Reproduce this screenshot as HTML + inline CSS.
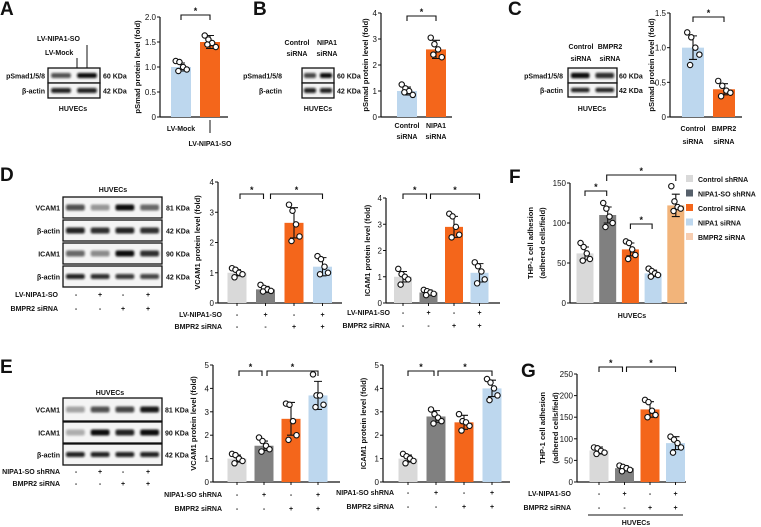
<!DOCTYPE html>
<html><head><meta charset="utf-8"><style>
html,body{margin:0;padding:0;background:#fff;}
svg{display:block;font-family:"Liberation Sans",sans-serif;}
</style></head><body>
<svg id="fig" width="761" height="527" viewBox="0 0 761 527" xmlns="http://www.w3.org/2000/svg">
<defs><filter id="blur" x="-20%" y="-50%" width="140%" height="200%"><feGaussianBlur stdDeviation="1.1"/></filter></defs>
</svg>
<script>
// ---------- DATA ----------
const catsA=['LV-Mock','LV-NIPA1-SO'];
const meanA=[1.0,1.5];
const sdA=[0.08,0.13];
const ptsA=[[1.12,1.1,1.0,0.95,0.92],[1.63,1.55,1.48,1.4,1.45]];
const ticksA=[0,0.5,1.0,1.5,2.0];
const tickLabA=['0','0.5','1.0','1.5','2.0'];

const catsB=['Control siRNA','NIPA1 siRNA'];
const meanB=[1.0,2.6];
const sdB=[0.15,0.35];
const ptsB=[[1.25,1.1,1.0,0.85,0.95],[3.05,2.8,2.6,2.3,2.4]];
const ticksB=[0,1,2,3,4];
const tickLabB=['0','1','2','3','4'];

const catsC=['Control siRNA','BMPR2 siRNA'];
const meanC=[1.0,0.4];
const sdC=[0.17,0.08];
const ptsC=[[1.22,1.15,1.0,0.9,0.75],[0.52,0.45,0.38,0.35,0.3]];
const ticksC=[0,0.5,1.0,1.5];
const tickLabC=['0','0.5','1.0','1.5'];

const meanD1=[1.0,0.45,2.65,1.2];
const sdD1=[0.1,0.1,0.5,0.3];
const ptsD1=[[1.15,1.1,1.0,0.95,0.85],[0.6,0.5,0.45,0.4,0.38],[3.25,3.05,2.6,2.2,2.05],[1.55,1.45,1.2,1.0,0.95]];
const meanD2=[1.0,0.4,2.9,1.15];
const sdD2=[0.2,0.1,0.4,0.35];
const ptsD2=[[1.3,1.1,1.0,0.9,0.7],[0.5,0.45,0.4,0.35,0.3],[3.4,3.3,2.9,2.6,2.5],[1.55,1.4,1.2,0.9,0.75]];
const ticksD=[0,1,2,3,4];
const tickLabD=['0','1','2','3','4'];

const meanE1=[1.0,1.55,2.7,3.7];
const sdE1=[0.15,0.2,0.7,0.6];
const ptsE1=[[1.2,1.15,1.0,0.9,0.8],[1.9,1.75,1.55,1.4,1.3],[3.35,3.3,2.6,2.0,1.8],[4.6,3.7,3.7,3.3,3.2]];
const meanE2=[1.0,2.8,2.55,4.0];
const sdE2=[0.15,0.25,0.3,0.35];
const ptsE2=[[1.2,1.1,1.0,0.9,0.8],[3.1,2.9,2.75,2.6,2.5],[2.9,2.6,2.55,2.4,2.2],[4.4,4.25,4.0,3.7,3.5]];
const ticksE=[0,1,2,3,4,5];
const tickLabE=['0','1','2','3','4','5'];

const catsF=['Control shRNA','NIPA1-SO shRNA','Control siRNA','NIPA1 siRNA','BMPR2 siRNA'];
const meanF=[62,110,67,37,122];
const sdF=[8,10,8,4,14];
const ptsF=[[75,70,62,55,53],[125,118,108,100,95],[77,75,67,60,55],[43,40,37,35,33],[146,127,120,118,115]];
const ticksF=[0,50,100,150];
const tickLabF=['0','50','100','150'];

const meanG=[73,32,168,90];
const sdG=[8,6,18,15];
const ptsG=[[80,78,72,68,65],[38,35,32,28,25],[190,185,165,155,150],[105,98,90,80,68]];
const ticksG=[0,50,100,150,200,250];
const tickLabG=['0','50','100','150','200','250'];

const signRow1=['-','+','-','+'];
const signRow2=['-','-','+','+'];

// ---------- HELPERS ----------
const NS='http://www.w3.org/2000/svg';
const svg=document.getElementById('fig');
const LG='#d9d9d9',DG='#808080',OR='#f4661b',LB='#bdd7ee',PE='#f2b47a';
const FS=7;
function el(tag,attrs,parent){const e=document.createElementNS(NS,tag);for(const k in attrs)e.setAttribute(k,attrs[k]);(parent||svg).appendChild(e);return e;}
function group(name){const g=el('g',{});


return g;}
function txt(x,y,s,name,opts,parent){opts=opts||{};
const t=el('text',{x:x,y:y,'font-size':opts.size||FS,'font-weight':opts.weight||'bold','text-anchor':opts.anchor||'start',fill:'#111'},parent);
if(opts.rot)t.setAttribute('transform','rotate(-90 '+x+' '+y+')');
t.textContent=s;


return t;}
function letter(x,y,s){const t=txt(x,y,s,'panel-label-'+s.toLowerCase(),{size:19,weight:'bold'});return t;}

function chart(name,cfg,means,sds,pts,colors,ticks,tickLabs){
  const g=group(name);
  const ys=v=>cfg.y0-v/cfg.max*(cfg.y0-cfg.yTop);
  const xc=i=>cfg.c0+i*cfg.step;
  const ya=el('line',{x1:cfg.ax,y1:cfg.yTop,x2:cfg.ax,y2:cfg.y0,stroke:'#111','stroke-width':1.2},g);
  
  
  const xa=el('line',{x1:cfg.ax,y1:cfg.y0,x2:cfg.axEnd,y2:cfg.y0,stroke:'#111','stroke-width':1.2},g);
  
  
  ticks.forEach((t,i)=>{
    const tk=el('line',{x1:cfg.ax-3,y1:ys(t),x2:cfg.ax,y2:ys(t),stroke:'#111','stroke-width':1},g);
    
    
    txt(cfg.ax-4,ys(t)+3,tickLabs[i],'y-tick-label',{anchor:'end',size:8,weight:'normal'},g);
  });
  const off=[-5,-1.5,2,5.5,-2.5];
  means.forEach((m,i)=>{
    const b=el('rect',{x:xc(i)-cfg.bw/2,y:ys(m),width:cfg.bw,height:cfg.y0-ys(m),fill:colors[i]},g);
    
    
    const e=el('path',{d:'M'+xc(i)+' '+ys(m+sds[i])+'V'+ys(m-sds[i])+'M'+(xc(i)-4)+' '+ys(m+sds[i])+'H'+(xc(i)+4)+'M'+(xc(i)-4)+' '+ys(m-sds[i])+'H'+(xc(i)+4),stroke:'#111','stroke-width':1.1,fill:'none'},g);
    
    
    pts[i].forEach((p,j)=>{
      const c=el('circle',{cx:xc(i)+off[j]*(cfg.bw/19),cy:ys(p),r:2.7,fill:'#fff',stroke:'#111','stroke-width':1.1},g);
      
      
    });
  });
  if(cfg.xticks){means.forEach((m,i)=>{
    const tk=el('line',{x1:xc(i),y1:cfg.y0,x2:xc(i),y2:cfg.y0+3,stroke:'#111'},g);
    
    
  });}
  cfg.title.forEach((s,k)=>txt(cfg.titleX[k],(cfg.y0+cfg.yTop)/2,s,'y-axis-title',{anchor:'middle',size:7.6,rot:true},g));
  (cfg.brackets||[]).forEach(br=>{
    const x1=xc(br[0])+(br[3]||0),x2=xc(br[1])+(br[4]||0),y=br[2];
    const p=el('path',{d:'M'+x1+' '+(y+5)+'V'+y+'H'+x2+'V'+(y+5),stroke:'#111','stroke-width':1.1,fill:'none'},g);
    
    
    txt((x1+x2)/2,y-1,'*','significance-star',{anchor:'middle',size:9},g);
  });
  if(cfg.signs){
    cfg.signs.forEach((row,r)=>{
      txt(cfg.signLabX,cfg.signY[r],row.label,'condition-label',{anchor:'end'},g);
      row.vals.forEach((s,i)=>txt(xc(i),cfg.signY[r],s,'condition-sign',{anchor:'middle'},g));
    });
  }
  return {g,xc,ys};
}

function blot(name,x,w,rows,labX,kdaX){
  const g=group(name);
  rows.forEach(r=>{
    const box=el('rect',{x:x,y:r.y,width:w,height:r.h,fill:'#f4f4f4',stroke:'#111','stroke-width':1.3},g);
    
    
    const n=r.bands.length, lw=w/n;
    r.bands.forEach((a,i)=>{
      const b=el('rect',{x:x+i*lw+lw*0.12,y:r.y+r.h/2-(r.bh||3),width:lw*0.76,height:2*(r.bh||3),rx:2,fill:'#111',opacity:a,filter:'url(#blur)'},g);
      
      
    });
    txt(labX,r.y+r.h/2+3,r.label,'blot-row-label',{anchor:'end'},g);
    txt(kdaX,r.y+r.h/2+3,r.kda,'molecular-weight-label',{},g);
  });
  return g;
}

// ---------- PANEL A ----------
letter(0,15,'A');
blot('blot-a',48,52,[{y:68,h:15,bands:[0.7,1],label:'pSmad1/5/8',kda:'60 KDa',bh:2.5},{y:83,h:15,bands:[0.9,0.9],label:'β-actin',kda:'42 KDa',bh:2.5}],45,103);
txt(37,41,'LV-NIPA1-SO','lane-label');
txt(45,55,'LV-Mock','lane-label');
el('path',{d:'M77 58V68M87 45V68',stroke:'#111','stroke-width':1});
txt(73,111,'HUVECs','cell-label',{anchor:'middle'});
chart('chart-a',{ax:160,axEnd:228,y0:117,yTop:17,max:2,c0:181,step:29,bw:20,title:['pSmad protein level (fold)'],titleX:[140],brackets:[[0,1,15]]},meanA,sdA,ptsA,[LB,OR],ticksA,tickLabA);
txt(181,131,catsA[0],'x-category-label',{anchor:'middle'});
el('path',{d:'M210 120V133',stroke:'#111','stroke-width':1});
txt(210,146,catsA[1],'x-category-label',{anchor:'middle'});

// ---------- PANEL B ----------
letter(253,15,'B');
blot('blot-b',302,32,[{y:68,h:15,bands:[0.75,1],label:'pSmad1/5/8',kda:'60 KDa',bh:2.5},{y:83,h:15,bands:[0.9,0.9],label:'β-actin',kda:'42 KDa',bh:2.5}],282,337);
txt(297,45,'Control','lane-label',{anchor:'middle'});txt(297,56,'siRNA','lane-label',{anchor:'middle'});
txt(327,45,'NIPA1','lane-label',{anchor:'middle'});txt(327,56,'siRNA','lane-label',{anchor:'middle'});
txt(318,111,'HUVECs','cell-label',{anchor:'middle'});
chart('chart-b',{ax:381,axEnd:452,y0:117,yTop:13,max:4,c0:407,step:29,bw:20,title:['pSmad protein level (fold)'],titleX:[368],brackets:[[0,1,16]]},meanB,sdB,ptsB,[LB,OR],ticksB,tickLabB);
catsB.forEach((c,i)=>{const p=c.split(' ');txt(407+i*29,128,p[0],'x-category-label',{anchor:'middle'});txt(407+i*29,139,p[1],'x-category-label',{anchor:'middle'});});

// ---------- PANEL C ----------
letter(508,15,'C');
blot('blot-c',568,49,[{y:68,h:15,bands:[1,0.85],label:'pSmad1/5/8',kda:'60 KDa',bh:2.8},{y:83,h:14,bands:[0.9,0.9],label:'β-actin',kda:'42 KDa',bh:2.2}],563,619);
txt(581,49,'Control','lane-label',{anchor:'middle'});txt(581,61,'siRNA','lane-label',{anchor:'middle'});
txt(610,49,'BMPR2','lane-label',{anchor:'middle'});txt(610,61,'siRNA','lane-label',{anchor:'middle'});
txt(592,111,'HUVECs','cell-label',{anchor:'middle'});
chart('chart-c',{ax:670,axEnd:742,y0:117,yTop:13,max:1.5,c0:693,step:31,bw:22,title:['pSmad protein level (fold)'],titleX:[654],brackets:[[0,1,17]]},meanC,sdC,ptsC,[LB,OR],ticksC,tickLabC);
catsC.forEach((c,i)=>{const p=c.split(' ');txt(693+i*31,131,p[0],'x-category-label',{anchor:'middle'});txt(693+i*31,144,p[1],'x-category-label',{anchor:'middle'});});

// ---------- PANEL D ----------
letter(0,181,'D');
txt(113,192,'HUVECs','cell-label',{anchor:'middle'});
blot('blot-d',63,99,[
 {y:197,h:21,bands:[0.7,0.4,1,0.6],label:'VCAM1',kda:'81 KDa'},
 {y:220,h:21,bands:[0.9,0.85,0.9,0.85],label:'β-actin',kda:'42 KDa'},
 {y:243,h:21,bands:[0.6,0.45,1,0.85],label:'ICAM1',kda:'90 KDa'},
 {y:266,h:21,bands:[0.9,0.85,0.8,0.75],label:'β-actin',kda:'42 KDa',bh:2.5}],60,166);
txt(58,297,'LV-NIPA1-SO','condition-label',{anchor:'end'});
txt(58,311,'BMPR2 siRNA','condition-label',{anchor:'end'});
[76,100,123,148].forEach((x,i)=>{txt(x,297,signRow1[i],'condition-sign',{anchor:'middle'});txt(x,311,signRow2[i],'condition-sign',{anchor:'middle'});});
chart('chart-d-vcam1',{ax:218,axEnd:342,y0:303,yTop:182,max:4,c0:237,step:28.5,bw:19,xticks:true,title:['VCAM1 protein level (fold)'],titleX:[200],brackets:[[0,1,194,3,-2],[1,3,194,5,0]],
 signs:[{label:'LV-NIPA1-SO',vals:signRow1},{label:'BMPR2 siRNA',vals:signRow2}],signLabX:222,signY:[317,329]},meanD1,sdD1,ptsD1,[LG,DG,OR,LB],ticksD,tickLabD);
chart('chart-d-icam1',{ax:386,axEnd:500,y0:303,yTop:198,max:4,c0:403,step:25.5,bw:18,xticks:true,title:['ICAM1 protein level (fold)'],titleX:[370],brackets:[[0,1,194,0,-2],[1,3,194,2,0]],
 signs:[{label:'LV-NIPA1-SO',vals:signRow1},{label:'BMPR2 siRNA',vals:signRow2}],signLabX:390,signY:[315,328]},meanD2,sdD2,ptsD2,[LG,DG,OR,LB],ticksD,tickLabD);

// ---------- PANEL E ----------
letter(0,373,'E');
txt(110,395,'HUVECs','cell-label',{anchor:'middle'});
blot('blot-e',63,99,[
 {y:398,h:23,bands:[0.35,0.7,0.75,0.95],label:'VCAM1',kda:'81 KDa'},
 {y:422,h:21,bands:[0.3,1,0.9,1],label:'ICAM1',kda:'90 KDa'},
 {y:444,h:21,bands:[0.9,0.9,0.9,0.9],label:'β-actin',kda:'42 KDa',bh:2.5}],60,165);
txt(60,474,'NIPA1-SO shRNA','condition-label',{anchor:'end'});
txt(60,486,'BMPR2 siRNA','condition-label',{anchor:'end'});
[76,100,123,148].forEach((x,i)=>{txt(x,474,signRow1[i],'condition-sign',{anchor:'middle'});txt(x,486,signRow2[i],'condition-sign',{anchor:'middle'});});
chart('chart-e-vcam1',{ax:213,axEnd:340,y0:482,yTop:365,max:5,c0:237,step:27,bw:19,xticks:true,title:['VCAM1 protein level (fold)'],titleX:[196],brackets:[[0,1,371,2,-2],[1,3,371,3,0]],
 signs:[{label:'NIPA1-SO shRNA',vals:signRow1},{label:'BMPR2 siRNA',vals:signRow2}],signLabX:222,signY:[497,511]},meanE1,sdE1,ptsE1,[LG,DG,OR,LB],ticksE,tickLabE);
chart('chart-e-icam1',{ax:383,axEnd:510,y0:482,yTop:365,max:5,c0:408,step:28,bw:19,xticks:true,title:['ICAM1 protein level (fold)'],titleX:[366],brackets:[[0,1,371,0,-2],[1,3,371,2,0]],
 signs:[{label:'NIPA1-SO shRNA',vals:signRow1},{label:'BMPR2 siRNA',vals:signRow2}],signLabX:394,signY:[495,509]},meanE2,sdE2,ptsE2,[LG,DG,OR,LB],ticksE,tickLabE);

// ---------- PANEL F ----------
letter(509,183,'F');
const cF=chart('chart-f',{ax:570,axEnd:687,y0:303,yTop:183,max:150,c0:585,step:22.7,bw:17,title:['THP-1 cell adhesion','(adhered cells/field)'],titleX:[533,545],brackets:[[0,1,191,0,-1],[2,3,224,0,-1]]},meanF,sdF,ptsF,[LG,DG,OR,LB,PE],ticksF,tickLabF);
(function(){const x1=cF.xc(1)-1,x2=cF.xc(4);
const p=el('path',{d:'M'+x1+' 181V175H'+x2+'V181',stroke:'#111','stroke-width':1.1,fill:'none'});


txt((x1+x2)/2,174,'*','significance-star',{anchor:'middle',size:9});})();
txt(632,318,'HUVECs','x-axis-title',{anchor:'middle'});
const legColors=[LG,'#56606b',OR,LB,'#f7cdb0'];
catsF.forEach((c,i)=>{const y=179+i*14.5;
 const lg=group('legend-entry');
 const s=el('rect',{x:686,y:y-4,width:7,height:7,fill:legColors[i]},lg);
 
 
 txt(698,y+3,c,'legend-label',{},lg);});

// ---------- PANEL G ----------
letter(521,377,'G');
chart('chart-g',{ax:577,axEnd:686,y0:482,yTop:374,max:250,c0:599,step:25.5,bw:19,xticks:true,title:['THP-1 cell adhesion','(adhered cells/field)'],titleX:[545,558],brackets:[[0,1,367,0,-2],[1,3,367,2,0]],
 signs:[{label:'LV-NIPA1-SO',vals:signRow1},{label:'BMPR2 siRNA',vals:signRow2}],signLabX:571,signY:[496,510]},meanG,sdG,ptsG,[LG,DG,OR,LB],ticksG,tickLabG);
const gl=el('line',{x1:588,y1:515,x2:683,y2:515,stroke:'#111','stroke-width':1.1});


txt(636,525,'HUVECs','x-axis-title',{anchor:'middle'});
</script>
</body></html>
